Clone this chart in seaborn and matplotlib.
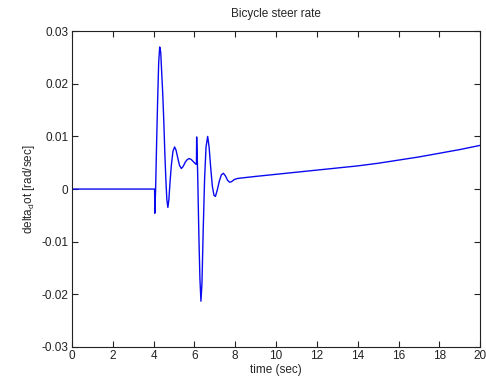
import matplotlib
matplotlib.use("Agg")
import matplotlib.pyplot as plt
import seaborn as sns
import pandas as pd

# Steer rate response of the bicycle model
time_s = [0.0, 4.05, 4.06, 4.10, 4.15, 4.20, 4.25, 4.30, 4.35, 4.40, 4.45, 4.50,
          4.55, 4.60, 4.65, 4.70, 4.75, 4.80, 4.87, 4.95, 5.03, 5.10, 5.18, 5.27,
          5.36, 5.45, 5.55, 5.65, 5.75, 5.85, 5.95, 6.05, 6.10, 6.11, 6.16, 6.22,
          6.27, 6.32, 6.37, 6.43, 6.50, 6.57, 6.65, 6.72, 6.80, 6.88, 6.96, 7.03,
          7.12, 7.22, 7.32, 7.42, 7.52, 7.62, 7.72, 7.82, 7.95, 8.10, 8.30, 9.0,
          10.0, 11.0, 12.0, 13.0, 14.0, 15.0, 16.0, 17.0, 18.0, 19.0, 20.0]
steer_rate = [0.0, 0.0, -0.0046, 0.0, 0.009, 0.017, 0.024, 0.027, 0.026, 0.022,
              0.018, 0.013, 0.007, 0.002, -0.002, -0.0035, -0.002, 0.001, 0.0045,
              0.0072, 0.008, 0.0074, 0.006, 0.0045, 0.0039, 0.0043, 0.0051, 0.0056,
              0.0058, 0.0056, 0.0052, 0.0048, 0.0047, 0.0099, 0.003, -0.009, -0.017,
              -0.0213, -0.018, -0.008, 0.002, 0.008, 0.010, 0.008, 0.004, 0.0005,
              -0.0012, -0.0014, -0.0002, 0.0015, 0.0027, 0.003, 0.0025, 0.0017,
              0.0013, 0.0014, 0.0018, 0.002, 0.0021, 0.0024, 0.0028, 0.0032, 0.0036,
              0.0040, 0.0044, 0.0049, 0.0055, 0.0061, 0.0068, 0.0075, 0.0083]

x_ticks = [0, 2, 4, 6, 8, 10, 12, 14, 16, 18, 20]
y_ticks = [-0.03, -0.02, -0.01, 0.0, 0.01, 0.02, 0.03]
y_tick_labels = ["-0.03", "-0.02", "-0.01", "0", "0.01", "0.02", "0.03"]

sns.set_style("ticks")
plt.rcParams["font.family"] = ["Liberation Sans", "DejaVu Sans"]
plt.rcParams["xtick.direction"] = "in"
plt.rcParams["ytick.direction"] = "in"

df = pd.DataFrame({"time": time_s, "rate": steer_rate})

fig = plt.figure(figsize=(4.86, 3.80), dpi=100, facecolor="white")
ax = fig.add_axes([0.148, 0.087, 0.840, 0.831])

sns.lineplot(data=df, x="time", y="rate", sort=False, estimator=None,
             color="#0a0af0", linewidth=1.0, ax=ax)

ax.set_xlim(0, 20)
ax.set_ylim(-0.03, 0.03)
ax.set_xticks(x_ticks)
ax.set_xticklabels([str(v) for v in x_ticks])
ax.set_yticks(y_ticks)
ax.set_yticklabels(y_tick_labels)
ax.tick_params(axis="both", which="both", top=True, right=True, length=4,
               width=0.8, labelsize=8.5, colors="#222222", pad=2.5)
for s in ax.spines.values():
    s.set_color("#222222")
    s.set_linewidth(0.8)

ax.set_title("Bicycle steer rate", fontsize=8.5, pad=10)
ax.set_xlabel("time (sec)", fontsize=8.5, labelpad=1)
ax.set_ylabel("delta$_{\\mathregular{d}}$ot [rad/sec]", fontsize=8.5, labelpad=3)

fig.savefig("out.png", dpi=100, facecolor="white")
